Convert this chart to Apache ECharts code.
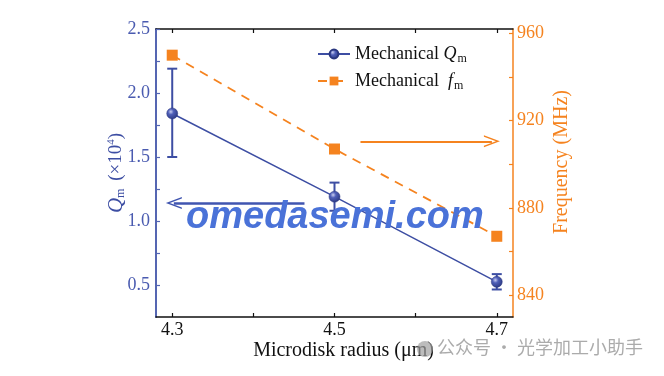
<!DOCTYPE html>
<html>
<head>
<meta charset="utf-8">
<script src="https://cdn.jsdelivr.net/npm/echarts@6/dist/echarts.min.js"></script>
<style>
  html, body { margin: 0; padding: 0; background: #fff; }
  #chart { width: 664px; height: 376px; }
</style>
</head>
<body>
<div id="chart"></div>
<script>
// 数据
var radius = [4.3, 4.5, 4.7];
var qm = [1.84, 1.19, 0.525];
var qmLow = [1.50, 1.08, 0.465];
var qmHigh = [2.19, 1.30, 0.585];
var freq = [950, 907, 867];

var xTicks = [4.3, 4.4, 4.5, 4.6, 4.7];
var xLabels = [4.3, 4.5, 4.7];
var qTicks = [0.5, 0.75, 1.0, 1.25, 1.5, 1.75, 2.0, 2.25, 2.5];
var qLabels = [0.5, 1.0, 1.5, 2.0, 2.5];
var fTicks = [840, 860, 880, 900, 920, 940, 960];
var fLabels = [840, 880, 920, 960];

var blue = '#3d4ea3';
var orange = '#f5831f';
var serif = 'Liberation Serif';

var qData = radius.map(function (r, i) { return [r, qm[i]]; });
var errData = radius.map(function (r, i) { return [r, qmLow[i], qmHigh[i]]; });
var fData = radius.map(function (r, i) { return [r, freq[i]]; });

// 小球的渐变
var ball = {
    type: 'radial', x: 0.38, y: 0.35, r: 0.7,
    colorStops: [{ offset: 0, color: '#c8cdf0' }, { offset: 0.35, color: '#4f5fb8' }, { offset: 1, color: '#2a377f' }]
};

// 空心箭头 (朝上, 由 markLine 自动旋转)
var openArrow = 'path://M12,0 L24,20 L21,20 L12,5 L3,20 L0,20 Z';

var myChart = echarts.init(document.getElementById('chart'));
var option = {
    animation: false,
    grid: { left: 156, right: 151, top: 29, bottom: 59 },
    legend: {
        left: 312, top: 40, orient: 'vertical', itemGap: 7,
        itemWidth: 32, itemHeight: 11,
        data: ['Q', 'F'],
        formatter: function (name) {
            return name === 'Q' ? 'Mechanical {i|Q}{s|m}' : 'Mechanical  {i|f}{s|m}';
        },
        textStyle: {
            fontFamily: serif, fontSize: 18, color: '#111',
            rich: {
                i: { fontFamily: serif, fontStyle: 'italic', fontSize: 18, color: '#111' },
                s: { fontFamily: serif, fontSize: 12, color: '#111', padding: [10, 0, 0, 1] }
            }
        }
    },
    xAxis: [{
        type: 'value', min: 4.28, max: 4.72,
        name: 'Microdisk radius (μm)', nameLocation: 'middle', nameGap: 24, nameMoveOverlap: false,
        nameTextStyle: { fontFamily: serif, fontSize: 20, color: '#111', padding: [0, 0, 0, 18] },
        axisLine: { lineStyle: { color: '#111', width: 1.5 } },
        axisTick: { inside: true, length: 4, customValues: xTicks, lineStyle: { color: '#111', width: 1.2 } },
        axisLabel: { customValues: xLabels, fontFamily: serif, fontSize: 18, color: '#111', margin: 4,
            formatter: function (v) { return v.toFixed(1); } },
        splitLine: { show: false }
    }, {
        type: 'value', min: 4.28, max: 4.72, position: 'top',
        axisLine: { show: true, lineStyle: { color: '#111', width: 1.5 } },
        axisTick: { inside: true, length: 4, customValues: xTicks, lineStyle: { color: '#111', width: 1.2 } },
        axisLabel: { show: false },
        splitLine: { show: false }
    }],
    yAxis: [{
        type: 'value', min: 0.25, max: 2.5,
        name: '{i|Q}{s|m} (×10{p|4})', nameLocation: 'middle', nameGap: 29, nameRotate: 90, nameMoveOverlap: false,
        nameTextStyle: {
            fontFamily: serif, fontSize: 19, color: blue,
            rich: {
                i: { fontFamily: serif, fontStyle: 'italic', fontSize: 21, color: blue },
                s: { fontFamily: serif, fontSize: 12, color: blue, padding: [10, 3, 0, 0] },
                p: { fontFamily: serif, fontSize: 11, color: blue, padding: [0, 0, 9, 0] }
            }
        },
        axisLine: { show: true, lineStyle: { color: '#5566b2', width: 2 } },
        axisTick: { inside: true, length: 4, customValues: qTicks, lineStyle: { color: '#5566b2', width: 1.2 } },
        axisLabel: { customValues: qLabels, fontFamily: serif, fontSize: 18, color: '#4a5bb0', margin: 6,
            formatter: function (v) { return v.toFixed(1); } },
        splitLine: { show: false }
    }, {
        type: 'value', min: 830, max: 962,
        name: 'Frequency (MHz)', nameLocation: 'middle', nameGap: 59, nameRotate: 90, nameMoveOverlap: false,
        nameTextStyle: { fontFamily: serif, fontSize: 20, color: orange, verticalAlign: 'bottom', padding: [0, 0, 0, 22] },
        axisLine: { show: true, lineStyle: { color: orange, width: 1.5 } },
        axisTick: { inside: true, length: 4, customValues: fTicks, lineStyle: { color: orange, width: 1.2 } },
        axisLabel: { customValues: fLabels, fontFamily: serif, fontSize: 18, color: orange, margin: 4 },
        splitLine: { show: false }
    }],
    series: [{
        name: 'Q', type: 'line', data: qData, z: 4,
        symbol: 'circle', symbolSize: 11,
        lineStyle: { color: blue, width: 1.5 },
        itemStyle: { color: ball, borderColor: '#2a377f', borderWidth: 0.5 },
        markLine: {
            silent: true, symbol: ['none', openArrow], symbolSize: [12, 16],
            label: { show: false },
            lineStyle: { color: '#4055b0', width: 2.5, type: 'solid' },
            data: [[{ coord: [4.463, 1.14] }, { coord: [4.302, 1.14] }]]
        }
    }, {
        name: 'Qerr', type: 'custom', data: errData, z: 3,
        renderItem: function (params, api) {
            var x = api.value(0);
            var lo = api.coord([x, api.value(1)]);
            var hi = api.coord([x, api.value(2)]);
            var w = 5;
            var st = { stroke: blue, lineWidth: 2 };
            return {
                type: 'group',
                children: [
                    { type: 'line', shape: { x1: lo[0], y1: lo[1], x2: hi[0], y2: hi[1] }, style: st },
                    { type: 'line', shape: { x1: lo[0] - w, y1: lo[1], x2: lo[0] + w, y2: lo[1] }, style: st },
                    { type: 'line', shape: { x1: hi[0] - w, y1: hi[1], x2: hi[0] + w, y2: hi[1] }, style: st }
                ]
            };
        }
    }, {
        name: 'F', type: 'line', yAxisIndex: 1, data: fData, z: 2,
        symbol: 'rect', symbolSize: 11,
        lineStyle: { color: orange, width: 1.8, type: [9, 7] },
        itemStyle: { color: orange },
        markLine: {
            silent: true, symbol: ['none', openArrow], symbolSize: [12, 16],
            label: { show: false },
            lineStyle: { color: orange, width: 2, type: 'solid' },
            data: [[{ coord: [4.532, 910.5] }, { coord: [4.694, 910.5] }]]
        }
    }],
    graphic: [{
        type: 'text', left: 186, top: 199, z: 10, silent: true,
        style: { text: 'omedasemi.com', font: 'italic bold 38px "Liberation Sans"', fill: '#4a72d8' }
    }, {
        type: 'circle', shape: { cx: 425, cy: 349, r: 8 }, z: 10, silent: true,
        style: { fill: 'rgba(160,160,160,0.7)' }
    }, {
        type: 'text', left: 437, top: 338, z: 10, silent: true,
        style: { text: '公众号 · 光学加工小助手', font: '18px "Noto Sans CJK SC"', fill: 'rgba(150,150,150,0.8)' }
    }]
};
myChart.setOption(option, true);
</script>
</body>
</html>
